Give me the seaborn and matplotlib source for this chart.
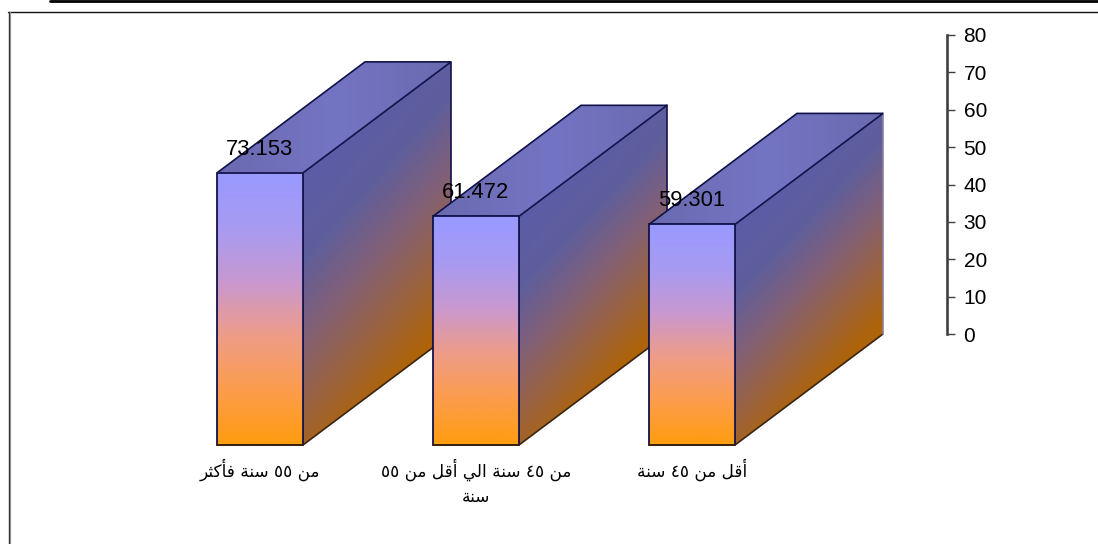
import numpy as np
import pandas as pd
import matplotlib
matplotlib.use('Agg')
import matplotlib.pyplot as plt
import seaborn as sns
from matplotlib.colors import LinearSegmentedColormap
from matplotlib.patches import Polygon

categories = ['من ٥٥ سنة فأكثر', 'من ٤٥ سنة الي أقل من ٥٥\nسنة', 'أقل من ٤٥ سنة']
values = [73.153, 61.472, 59.301]
axis_ticks = [0, 10, 20, 30, 40, 50, 60, 70, 80]

# matplotlib has no arabic shaping, so map letters to their joined forms
FORMS = {
    'ا': (0xFE8D, 0xFE8E), 'أ': (0xFE83, 0xFE84), 'ر': (0xFEAD, 0xFEAE),
    'ة': (0xFE93, 0xFE94),
    'ث': (0xFE99, 0xFE9A, 0xFE9B, 0xFE9C), 'س': (0xFEB1, 0xFEB2, 0xFEB3, 0xFEB4),
    'ف': (0xFED1, 0xFED2, 0xFED3, 0xFED4), 'ق': (0xFED5, 0xFED6, 0xFED7, 0xFED8),
    'ك': (0xFED9, 0xFEDA, 0xFEDB, 0xFEDC), 'ل': (0xFEDD, 0xFEDE, 0xFEDF, 0xFEE0),
    'م': (0xFEE1, 0xFEE2, 0xFEE3, 0xFEE4), 'ن': (0xFEE5, 0xFEE6, 0xFEE7, 0xFEE8),
    'ي': (0xFEF1, 0xFEF2, 0xFEF3, 0xFEF4),
}


def shape_line(line):
    out = []
    for i, c in enumerate(line):
        if c not in FORMS:
            out.append(c)
            continue
        prev = line[i - 1] if i > 0 else ' '
        nxt = line[i + 1] if i < len(line) - 1 else ' '
        from_prev = prev in FORMS and len(FORMS[prev]) == 4
        to_next = nxt in FORMS and len(FORMS[c]) == 4
        if from_prev and to_next:
            out.append(chr(FORMS[c][3]))
        elif to_next:
            out.append(chr(FORMS[c][2]))
        elif from_prev:
            out.append(chr(FORMS[c][1]))
        else:
            out.append(chr(FORMS[c][0]))
    words = ''.join(out).split(' ')
    # words go right to left, digits keep their order
    words = [w if w[0] in '٠١٢٣٤٥٦٧٨٩' else w[::-1] for w in words]
    return ' '.join(words[::-1])


def shape(text):
    return '\n'.join(shape_line(l) for l in text.split('\n'))


W, H = 1098, 544
x_px = 216          # pixels per category
y_px = 3.72         # pixels per unit
x0_px, y0_px = 260, 445
depth_x, depth_y = 148 / x_px, 111 / y_px
navy = '#12124a'
brown = '#3a2412'

sns.set_theme(style='white')
plt.rcParams['font.family'] = ['Liberation Sans', 'DejaVu Sans']

front_cmap = LinearSegmentedColormap.from_list('front', ['#9999ff', '#a79bf2', '#c898d0', '#ee9c88', '#fc9c4c', '#ff9c10'])
side_cmap = LinearSegmentedColormap.from_list('side', ['#5c5ca6', '#5e5e9c', '#80607a', '#986244', '#ae640a'])
top_cmap = LinearSegmentedColormap.from_list('top', ['#6a6ab0', '#7474c4', '#6a6ab0'])

fig = plt.figure(figsize=(W / 100, H / 100), dpi=100)
ax = fig.add_axes([0, 0, 1, 1])
df = pd.DataFrame({'group': categories, 'value': values})
sns.barplot(data=df, x='group', y='value', width=86 / x_px, ax=ax,
            facecolor='none', edgecolor=navy, linewidth=1.3, zorder=20)
ax.axis('off')

for i, bar in enumerate(ax.patches):
    x1, w, h = bar.get_x(), bar.get_width(), bar.get_height()
    x2 = x1 + w
    z = 2 + i * 3
    lw = 1.2

    # side face, colour runs mostly downwards and a little towards the back
    side = Polygon([(x2, 0), (x2 + depth_x, depth_y), (x2 + depth_x, h + depth_y), (x2, h)], closed=True,
                   facecolor='none', edgecolor='none', zorder=z)
    ax.add_patch(side)
    uu, vv = np.meshgrid(np.linspace(0, 1, 120), np.linspace(0, 1, 240))
    yy = (h + depth_y) * (1 - vv)
    down = (h + depth_y * uu - yy) / h
    grad = np.clip(0.92 * down + 0.18 * uu - 0.04, 0, 1)
    im = ax.imshow(grad, cmap=side_cmap, vmin=0, vmax=1, aspect='auto', zorder=z,
                   extent=(x2, x2 + depth_x, 0, h + depth_y), origin='upper')
    im.set_clip_path(side)
    ax.plot([x2, x2 + depth_x], [0, depth_y], color=brown, linewidth=lw, zorder=z + 0.5)
    # last bar has no visible back edge
    back = navy if i < len(values) - 1 else '#8a80a0'
    ax.plot([x2 + depth_x, x2 + depth_x], [depth_y, h + depth_y], color=back, linewidth=lw, zorder=z + 0.5)

    # top face
    top = Polygon([(x1, h), (x1 + depth_x, h + depth_y), (x2 + depth_x, h + depth_y), (x2, h)], closed=True,
                  edgecolor=navy, linewidth=lw, facecolor='none', zorder=z + 0.5)
    ax.add_patch(top)
    im = ax.imshow(np.linspace(0, 1, 200).reshape(1, -1), cmap=top_cmap, vmin=0, vmax=1, aspect='auto', zorder=z,
                   extent=(x1, x2 + depth_x, h, h + depth_y))
    im.set_clip_path(top)

    # front face
    ax.imshow(np.linspace(0, 1, 200).reshape(-1, 1), cmap=front_cmap, vmin=0, vmax=1, aspect='auto',
              zorder=z + 1, extent=(x1, x2, 0, h))
    bar.set_zorder(z + 1.5)
    ax.plot([x1, x2], [0, 0], color=brown, linewidth=lw + 0.2, zorder=z + 1.7)

ax.set_xlim(-x0_px / x_px, (W - x0_px) / x_px)
ax.set_ylim((y0_px - H) / y_px, y0_px / y_px)

for i, v in enumerate(values):
    ax.text(i, v + 6.4, f'{v:.3f}', ha='center', va='center', fontsize=15.8, color='black', zorder=40)
    ax.text(i, -3.6, shape(categories[i]), ha='center', va='top', fontsize=12.2, color='black',
            linespacing=1.5, zorder=40, family=['DejaVu Sans'])

# value axis stands in the back plane, on the right
ax2 = fig.add_axes([946.5 / W, 1 - 334 / H, 6 / W, 299 / H])
ax2.patch.set_alpha(0)
ax2.set_ylim(0, 80)
ax2.set_yticks(axis_ticks)
ax2.set_xticks([])
for s in ['top', 'right', 'bottom']:
    ax2.spines[s].set_visible(False)
ax2.spines['left'].set_color('#404040')
ax2.spines['left'].set_linewidth(1.9)
ax2.tick_params(axis='y', left=True, right=False, labelleft=False, labelright=True,
                direction='in', length=6, width=1, color='#404040', labelsize=15, pad=8, labelcolor='black')

# page rules around the chart
fig.add_artist(plt.Line2D([50 / W, 1], [1 - 1 / H, 1 - 1 / H], color='black', linewidth=2))
fig.add_artist(plt.Line2D([8 / W, 1], [1 - 11.5 / H, 1 - 11.5 / H], color='#111111', linewidth=1))
fig.add_artist(plt.Line2D([9.5 / W, 9.5 / W], [0, 1 - 12 / H], color='#aaaaaa', linewidth=0.9))
fig.add_artist(plt.Line2D([8.5 / W, 8.5 / W], [0, 1 - 11.5 / H], color='#333333', linewidth=1))

fig.savefig('out.png', dpi=100)
